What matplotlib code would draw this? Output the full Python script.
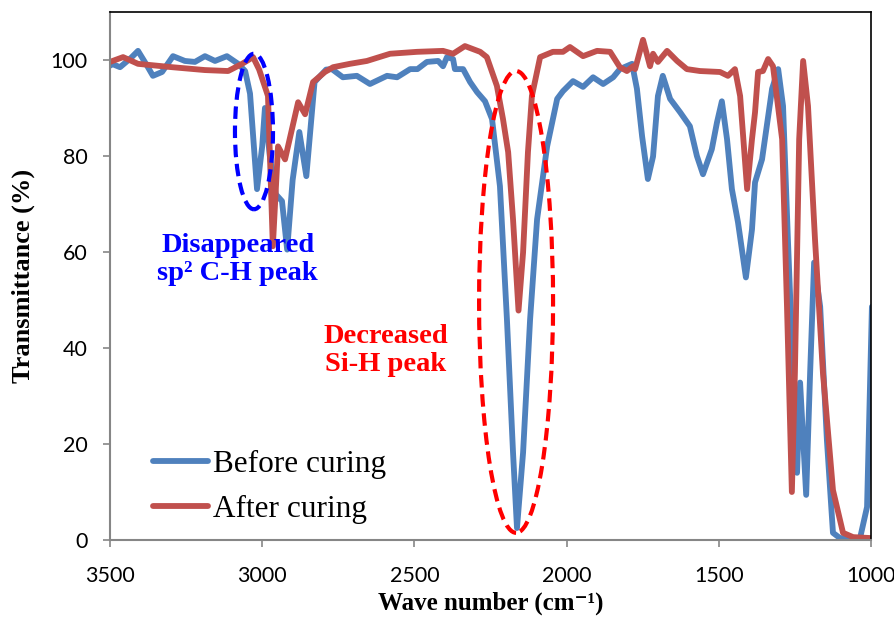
import numpy as np
import matplotlib.pyplot as plt
from matplotlib.patches import Ellipse

before_x = [3500, 3494, 3467, 3430, 3408, 3380, 3359, 3329, 3293, 3254, 3221, 3188, 3155,
            3116, 3079, 3056, 3040, 3017, 3000, 2991, 2975, 2955, 2935, 2918, 2900, 2878,
            2855, 2828, 2790, 2771, 2735, 2689, 2646, 2590, 2557, 2514, 2490, 2459, 2422,
            2406, 2393, 2373, 2367, 2340, 2317, 2294, 2268, 2245, 2219, 2196, 2176, 2163,
            2143, 2120, 2097, 2064, 2031, 2012, 1979, 1946, 1913, 1880, 1847, 1825, 1785,
            1769, 1752, 1733, 1716, 1700, 1684, 1660, 1627, 1595, 1572, 1552, 1523, 1506,
            1490, 1473, 1457, 1437, 1411, 1391, 1381, 1358, 1325, 1305, 1289, 1273, 1256,
            1243, 1233, 1213, 1200, 1187, 1167, 1145, 1125, 1102, 1036, 1013, 997]
before_y = [98.8, 99.2, 98.5, 100.5, 101.9, 99.0, 96.7, 97.5, 100.8, 99.8, 99.6, 100.8, 99.8,
            100.8, 99.2, 97.7, 93.0, 73.1, 82.0, 90.0, 80.0, 72.0, 70.6, 60.5, 75.0, 85.0,
            75.8, 95.4, 98.0, 98.1, 96.4, 96.7, 95.0, 96.7, 96.4, 98.1, 98.1, 99.6, 99.8,
            98.7, 100.6, 100.2, 98.1, 98.1, 95.4, 93.3, 91.4, 87.7, 73.7, 45.9, 18.2, 2.5,
            18.2, 45.9, 66.8, 82.0, 91.9, 93.5, 95.6, 94.4, 96.4, 95.0, 96.4, 98.1, 99.2,
            94.0, 84.1, 75.2, 79.9, 92.5, 96.7, 91.9, 89.1, 86.2, 80.0, 76.2, 81.4, 87.0,
            91.4, 83.5, 73.1, 66.2, 54.7, 64.7, 74.5, 79.3, 94.0, 98.1, 90.4, 62.6, 34.9,
            14.0, 32.8, 9.4, 34.9, 57.8, 48.6, 20.9, 1.5, 0.4, 0.4, 6.9, 48.6]

after_x = [3500, 3457, 3408, 3296, 3188, 3112, 3066, 3030, 3010, 2981, 2965, 2948, 2925,
           2882, 2859, 2833, 2794, 2767, 2712, 2656, 2580, 2491, 2406, 2373, 2334, 2284,
           2262, 2229, 2209, 2192, 2176, 2158, 2143, 2127, 2114, 2087, 2045, 2012, 1989,
           1946, 1900, 1857, 1825, 1802, 1782, 1775, 1749, 1726, 1716, 1700, 1670, 1637,
           1605, 1562, 1496, 1470, 1447, 1430, 1407, 1391, 1381, 1371, 1355, 1338, 1322,
           1292, 1276, 1260, 1250, 1236, 1223, 1207, 1184, 1158, 1125, 1092, 1059, 1000]
after_y = [99.6, 100.6, 99.2, 98.5, 97.9, 97.7, 99.2, 100.6, 98.0, 92.5, 61.2, 82.0, 79.3,
           91.2, 88.7, 95.4, 97.5, 98.5, 99.2, 99.8, 101.3, 101.7, 101.9, 101.3, 102.9, 101.7,
           100.6, 94.6, 87.7, 80.8, 66.8, 47.8, 59.9, 80.8, 92.5, 100.6, 101.7, 101.7, 102.7,
           100.8, 101.9, 101.7, 98.5, 97.7, 98.7, 98.1, 104.2, 98.7, 101.3, 99.6, 101.9, 99.8,
           98.1, 97.7, 97.5, 96.7, 98.1, 92.5, 73.1, 83.5, 89.1, 97.5, 97.7, 100.2, 98.7,
           83.5, 48.6, 10.0, 34.9, 83.5, 99.8, 90.4, 62.6, 34.9, 10.4, 1.5, 0.6, 0.4]

x_ticks = [3500, 3000, 2500, 2000, 1500, 1000]
y_ticks = [0, 20, 40, 60, 80, 100]

blue = '#4F81BD'
red = '#C0504D'
serif = ['Liberation Serif', 'DejaVu Serif']

fig = plt.figure(figsize=(8.95, 6.18), dpi=100)
ax = fig.add_axes([0.1229, 0.1262, 0.8503, 0.8544])

ax.plot(before_x, before_y, color=blue, lw=4.2, solid_joinstyle='round',
        solid_capstyle='round', label='Before curing')
ax.plot(after_x, after_y, color=red, lw=4.2, solid_joinstyle='round',
        solid_capstyle='round', label='After curing')

ax.set_xlim(3500, 1000)
ax.set_ylim(0, 110)
ax.set_xticks(x_ticks)
ax.set_yticks(y_ticks)
ax.tick_params(direction='out', length=5, width=1.2, color='#868686', labelsize=15.5)
ax.tick_params(axis='x', pad=14)
ax.tick_params(axis='y', pad=11)
for lab in ax.get_xticklabels() + ax.get_yticklabels():
    lab.set_family(['Lato', 'DejaVu Sans'])

for s in ['left', 'bottom']:
    ax.spines[s].set_color('#868686')
    ax.spines[s].set_linewidth(1.5)
for s in ['top', 'right']:
    ax.spines[s].set_color('black')
    ax.spines[s].set_linewidth(1.2)

ax.set_xlabel('Wave number (cm⁻¹)', family=serif, fontsize=18, fontweight='bold')
ax.xaxis.set_label_coords(0.5, -0.097)
ax.set_ylabel('Transmittance (%)', family=serif, fontsize=19, fontweight='bold', labelpad=11)

# annotations
ax.add_patch(Ellipse((3027, 85.1), 125, 32.4, fill=False, ec='#0000FF', lw=3,
                     ls=(0, (3, 1.6)), zorder=3))
ax.add_patch(Ellipse((2166, 49.6), 243, 96.2, fill=False, ec='#FF0000', lw=3,
                     ls=(0, (3, 1.6)), zorder=3))
ax.text(3080, 58.5, 'Disappeared\nsp² C-H peak', color='#0000FF', family=serif,
        fontsize=20.5, fontweight='bold', ha='center', va='center', linespacing=1.15)
ax.text(2595, 39.5, 'Decreased\nSi-H peak', color='#FF0000', family=serif,
        fontsize=20.5, fontweight='bold', ha='center', va='center', linespacing=1.15)

leg = ax.legend(loc='lower left', bbox_to_anchor=(0.057, 0.03), frameon=False,
                prop={'family': serif, 'size': 22.5}, handlelength=1.75, handletextpad=0.15,
                labelspacing=0.52, borderaxespad=0, borderpad=0)

fig.savefig('out.png', dpi=100)
